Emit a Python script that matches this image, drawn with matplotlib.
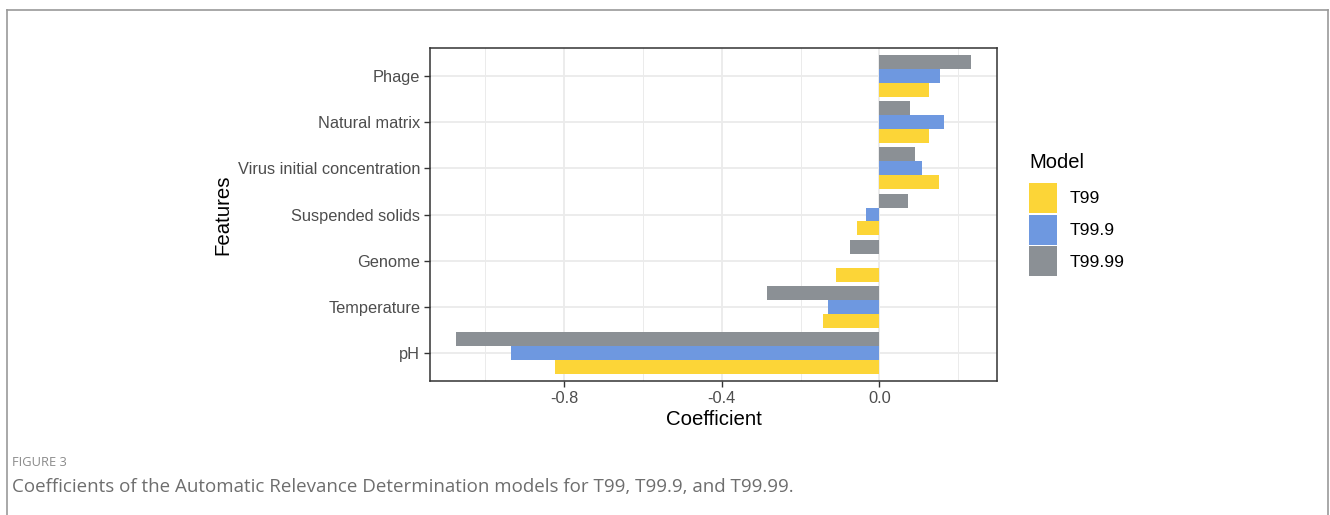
import numpy as np
import matplotlib
matplotlib.use("Agg")
import matplotlib.pyplot as plt
from matplotlib.lines import Line2D

# data (bottom to top)
features = ["pH", "Temperature", "Genome", "Suspended solids",
            "Virus initial concentration", "Natural matrix", "Phage"]
t99 = [-0.823, -0.144, -0.110, -0.056, 0.150, 0.127, 0.127]
t99_9 = [-0.935, -0.131, -0.002, -0.033, 0.108, 0.165, 0.153]
t99_99 = [-1.075, -0.286, -0.074, 0.073, 0.090, 0.078, 0.233]
models = ["T99", "T99.9", "T99.99"]
colors = ["#FCD537", "#6E98E0", "#8B9095"]

plt.rcParams['font.family'] = ['Liberation Sans', 'DejaVu Sans']

W, H = 1330, 515
fig = plt.figure(figsize=(W/100, H/100), dpi=100)
ax = fig.add_axes([430/W, 1-381/H, (997-430)/W, (381-48)/H])

y = np.arange(1, len(features)+1)
h = 0.3
series = [t99, t99_9, t99_99]
bars = []
for k, (vals, c) in enumerate(zip(series, colors)):
    b = ax.barh(y + (k-1)*h, vals, height=h, color=c, zorder=3)
    bars.append(b)

allv = np.concatenate([t99, t99_9, t99_99, [0]])
lo, hi = allv.min(), allv.max()
pad = 0.05*(hi-lo)
ax.set_xlim(lo-pad, hi+pad)
ax.set_ylim(0.4, len(features)+0.6)

ax.set_xticks([-0.8, -0.4, 0.0])
ax.set_xticklabels(["-0.8", "-0.4", "0.0"])
ax.set_xticks([-1.0, -0.6, -0.2, 0.2], minor=True)
ax.set_yticks(y)
ax.set_yticklabels(features)
ax.grid(True, which='major', color='#EBEBEB', lw=1.3, zorder=0)
ax.grid(True, which='minor', axis='x', color='#EBEBEB', lw=0.7, zorder=0)
ax.tick_params(axis='both', which='major', length=4, width=1, color='#333333',
               labelsize=11.8, labelcolor='#4D4D4D', pad=3)
ax.tick_params(axis='both', which='minor', length=0)
for s in ax.spines.values():
    s.set_color('#333333')
    s.set_linewidth(1.1)

ax.set_xlabel("Coefficient", fontsize=14.7, labelpad=3)
ax.set_ylabel("Features", fontsize=14.7, labelpad=4)

fig.text(1029/W, 1-162/H, "Model", fontsize=14.5, va='center', ha='left')
ax.legend([b[0] for b in bars], models, loc='upper left',
          bbox_to_anchor=(1029/W, 1-183/H), bbox_transform=fig.transFigure,
          frameon=False, fontsize=12.6, handlelength=1.6,
          handleheight=2.25, labelspacing=0.1, handletextpad=0.75,
          borderpad=0, borderaxespad=0)

# outer frame
fr = dict(color='#9A9A9A', lw=1.2, transform=fig.transFigure)
fig.add_artist(Line2D([7/W, 1328/W], [1-10/H, 1-10/H], **fr))
fig.add_artist(Line2D([7/W, 7/W], [0, 1-10/H], **fr))
fig.add_artist(Line2D([1328/W, 1328/W], [0, 1-10/H], **fr))

fig.text(12/W, 1-462/H, "FIGURE 3", fontsize=9.3, color='#8A8A8A',
         family=['Open Sans', 'DejaVu Sans'], va='center')
fig.text(12/W, 1-487/H,
         "Coefficients of the Automatic Relevance Determination models for T99, T99.9, and T99.99.",
         fontsize=13.5, color='#6E6E6E', family=['Open Sans', 'DejaVu Sans'], va='center')

fig.savefig("out.png", dpi=100)
